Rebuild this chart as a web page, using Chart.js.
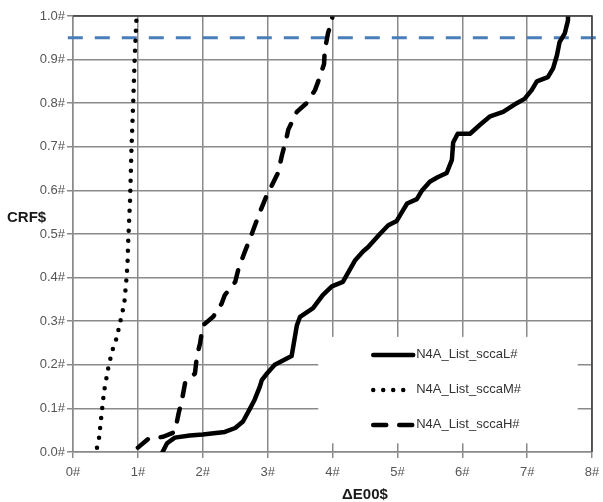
<!DOCTYPE html>
<html>
<head>
<meta charset="utf-8">
<script src="https://cdn.jsdelivr.net/npm/chart.js@4.4.1/dist/chart.umd.min.js"></script>
<style>
  body { margin: 0; background: #fff; }
  #wrap { width: 603px; height: 502px; }
</style>
</head>
<body>
<div id="wrap"><canvas id="crf-chart" width="603" height="502"></canvas></div>
<script>
const seriesLabels = ['N4A_List_sccaL#', 'N4A_List_sccaM#', 'N4A_List_sccaH#'];

// sccaL (solid)
const lX = [1.38, 1.45, 1.57, 1.8, 2.0, 2.34, 2.5, 2.62, 2.73, 2.80, 2.88, 2.91, 2.99, 3.11, 3.37, 3.45, 3.50, 3.70, 3.85, 3.99, 4.16, 4.35, 4.47, 4.55, 4.73, 4.86, 4.99, 5.07, 5.15, 5.30, 5.38, 5.50, 5.62, 5.76, 5.84, 5.86, 5.93, 6.12, 6.27, 6.43, 6.63, 6.84, 6.96, 7.07, 7.15, 7.32, 7.40, 7.46, 7.50, 7.58, 7.63, 7.63];
const lY = [0.0, 0.02, 0.033, 0.038, 0.04, 0.046, 0.055, 0.07, 0.10, 0.12, 0.15, 0.165, 0.18, 0.20, 0.22, 0.29, 0.31, 0.33, 0.36, 0.38, 0.39, 0.44, 0.46, 0.47, 0.50, 0.52, 0.53, 0.55, 0.57, 0.58, 0.60, 0.62, 0.63, 0.64, 0.67, 0.71, 0.73, 0.73, 0.75, 0.77, 0.78, 0.80, 0.81, 0.83, 0.85, 0.86, 0.88, 0.91, 0.94, 0.96, 0.99, 1.0];

// sccaM (dotted)
const mX = [0.37, 0.40, 0.45, 0.48, 0.54, 0.60, 0.67, 0.73, 0.79, 0.82, 0.84, 0.85, 0.88, 0.90, 0.93, 0.95, 0.98];
const mY = [0.01, 0.03, 0.10, 0.14, 0.19, 0.23, 0.26, 0.30, 0.34, 0.39, 0.43, 0.48, 0.58, 0.69, 0.81, 0.90, 1.0];

// sccaH (dashed)
const hX = [1.0, 1.16, 1.39, 1.57, 1.63, 1.68, 1.73, 1.88, 1.91, 1.96, 2.0, 2.16, 2.29, 2.34, 2.50, 2.55, 2.65, 2.73, 2.83, 2.88, 2.99, 3.06, 3.16, 3.22, 3.29, 3.32, 3.45, 3.60, 3.73, 3.78, 3.87, 3.88, 3.93, 3.99, 4.0];
const hY = [0.01, 0.03, 0.035, 0.046, 0.09, 0.12, 0.16, 0.18, 0.22, 0.25, 0.29, 0.31, 0.34, 0.36, 0.39, 0.42, 0.46, 0.49, 0.53, 0.55, 0.59, 0.61, 0.64, 0.68, 0.72, 0.74, 0.78, 0.80, 0.83, 0.85, 0.89, 0.92, 0.96, 0.99, 1.0];

// 95% reference line
const refLevel = 0.95;
const refX = [-0.08, 8.2];

const xTicks = [0, 1, 2, 3, 4, 5, 6, 7, 8];
const yTicks = [0, 0.1, 0.2, 0.3, 0.4, 0.5, 0.6, 0.7, 0.8, 0.9, 1.0];

const toPoints = (xs, ys) => xs.map((x, i) => ({ x: x, y: ys[i] }));

const gridColor = '#8a8a8a';
const fontFamily = "'Liberation Sans', Arial, sans-serif";

// legend box corners in data units
const legendBox = { x0: 3.78, x1: 7.78, y0: 0.02, y1: 0.264 };

const extrasPlugin = {
  id: 'extras',
  afterDatasetsDraw(chart) {
    const ctx = chart.ctx;
    const xs = chart.scales.x, ys = chart.scales.y;
    const ca = chart.chartArea;
    ctx.save();
    // top + right frame
    ctx.strokeStyle = '#3c3c3c';
    ctx.lineWidth = 1.5;
    ctx.beginPath();
    ctx.moveTo(ca.left, ca.top);
    ctx.lineTo(ca.right, ca.top);
    ctx.lineTo(ca.right, ca.bottom);
    ctx.stroke();

    // legend
    const bx0 = xs.getPixelForValue(legendBox.x0);
    const bx1 = xs.getPixelForValue(legendBox.x1);
    const by0 = ys.getPixelForValue(legendBox.y1);
    const by1 = ys.getPixelForValue(legendBox.y0);
    ctx.fillStyle = '#fff';
    ctx.fillRect(bx0, by0, bx1 - bx0, by1 - by0);
    ctx.font = '13px ' + fontFamily;
    ctx.textBaseline = 'middle';
    ctx.textAlign = 'left';
    for (let i = 0; i < seriesLabels.length; i++) {
      const ds = chart.data.datasets[i];
      const rowY = by0 + 18 + i * 35;
      const sx = bx0 + 55;
      ctx.strokeStyle = ds.borderColor;
      ctx.lineWidth = ds.borderWidth;
      ctx.lineCap = ds.borderCapStyle || 'butt';
      ctx.setLineDash(ds.borderDash || []);
      ctx.beginPath();
      ctx.moveTo(sx, rowY);
      ctx.lineTo(sx + 40, rowY);
      ctx.stroke();
      ctx.setLineDash([]);
      ctx.fillStyle = '#333';
      ctx.fillText(seriesLabels[i], sx + 43, rowY);
    }

    // axis titles
    ctx.fillStyle = '#1a1a1a';
    ctx.font = 'bold 15px ' + fontFamily;
    ctx.textAlign = 'left';
    ctx.fillText('CRF$', 7, ys.getPixelForValue(0.537));
    ctx.textAlign = 'center';
    ctx.fillText('\u0394E00$', xs.getPixelForValue(4.5), 495);
    ctx.restore();
  }
};

new Chart(document.getElementById('crf-chart'), {
  type: 'line',
  data: {
    datasets: [
      {
        label: seriesLabels[0],
        data: toPoints(lX, lY),
        borderColor: '#000',
        borderWidth: 4.5,
        borderJoinStyle: 'round',
        borderCapStyle: 'round',
        pointRadius: 0,
        tension: 0
      },
      {
        label: seriesLabels[1],
        data: toPoints(mX, mY),
        borderColor: '#000',
        borderWidth: 4.5,
        borderDash: [0, 10],
        borderCapStyle: 'round',
        pointRadius: 0,
        tension: 0
      },
      {
        label: seriesLabels[2],
        data: toPoints(hX, hY),
        borderColor: '#000',
        borderWidth: 4.5,
        borderDash: [13, 13],
        borderCapStyle: 'round',
        borderJoinStyle: 'round',
        pointRadius: 0,
        tension: 0
      },
      {
        label: 'ref',
        data: refX.map(x => ({ x: x, y: refLevel })),
        borderColor: '#4a7ebb',
        borderWidth: 3,
        borderDash: [15, 12],
        pointRadius: 0,
        clip: false
      }
    ]
  },
  options: {
    responsive: false,
    animation: false,
    layout: {
      padding: { left: 0, right: 11, top: 16, bottom: 0 }
    },
    scales: {
      x: {
        type: 'linear',
        min: 0,
        max: 8,
        afterBuildTicks: s => { s.ticks = xTicks.map(v => ({ value: v })); },
        afterFit: s => { s.height = 50; s.paddingLeft = 0; s.paddingRight = 0; },
        grid: { color: gridColor, lineWidth: 1.5, tickLength: 6 },
        border: { color: gridColor, width: 1.5 },
        ticks: {
          color: '#555',
          padding: 7,
          font: { family: fontFamily, size: 13 },
          callback: v => v + '#'
        }
      },
      y: {
        min: 0,
        max: 1,
        afterBuildTicks: s => { s.ticks = yTicks.map(v => ({ value: v })); },
        afterFit: s => { s.width = 73; s.paddingTop = 0; s.paddingBottom = 0; },
        grid: { color: gridColor, lineWidth: 1.5, tickLength: 6 },
        border: { color: gridColor, width: 1.5 },
        ticks: {
          color: '#555',
          padding: 2,
          font: { family: fontFamily, size: 13 },
          callback: v => v.toFixed(1) + '#'
        }
      }
    },
    plugins: {
      legend: { display: false },
      tooltip: { enabled: false }
    }
  },
  plugins: [extrasPlugin]
});
</script>
</body>
</html>
